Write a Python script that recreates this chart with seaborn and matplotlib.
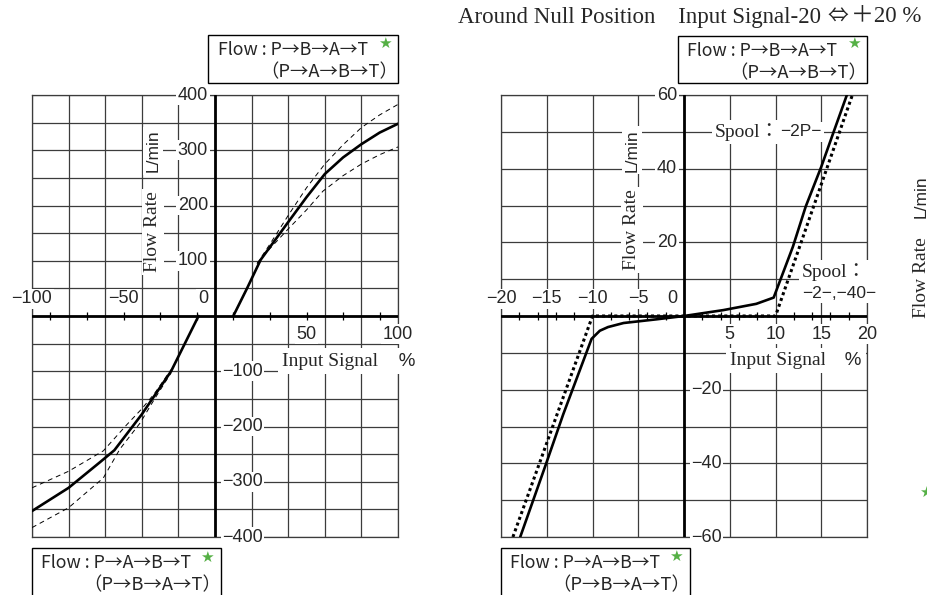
import matplotlib
matplotlib.use("Agg")
import matplotlib.pyplot as plt
from matplotlib.patches import Rectangle
import seaborn as sns

# ---- full stroke panel (-100 .. 100 %)
fullNegX = [-100, -80, -63, -55, -40, -24, -9]
fullNegY = [-353, -311, -265, -243, -178, -100, 0]
fullPosX = [10, 17.5, 25, 40, 50, 60, 70, 80, 90, 100]
fullPosY = [0, 50, 102, 170, 215, 257, 287, 311, 332, 348]

fullUpperPosX = [23, 30, 40, 50, 60, 70, 80, 90, 100]
fullUpperPosY = [95, 130, 182, 232, 275, 310, 341, 364, 383]
fullLowerPosX = [23, 30, 39, 50, 59, 70, 80, 90, 100]
fullLowerPosY = [95, 122, 154, 192, 226, 254, 275, 292, 306]

fullUpperNegX = [-100, -80, -61, -48, -40, -33, -24]
fullUpperNegY = [-311, -281, -244, -196, -168, -140, -97]
fullLowerNegX = [-100, -80, -61, -52, -41, -33, -24]
fullLowerNegY = [-383, -347, -293, -241, -194, -150, -103]

# ---- around null position panel (-20 .. 20 %)
nullSolidX = [-17.9, -15.1, -13.2, -10.1, -9.2, -8.3, -6.6, -3.0, 0.0, 4.3, 7.9, 9.8, 11.9, 13.3, 15.0, 16.3, 17.8]
nullSolidY = [-60, -40.3, -26.7, -6.2, -4.0, -3.0, -1.9, -0.9, 0.0, 1.6, 3.3, 5.0, 18.8, 29.7, 40.5, 49.6, 60]
nullDotX = [-18.7, -10, 10, 18.4]
nullDotY = [-60, 0, 0, 60]

# tick label values
fullXAbove = [-100, -50]
fullXBelow = [50, 100]
fullYLeft = [400, 300, 200, 100]
fullYRight = [-100, -200, -300, -400]
nullXAbove = [-20, -15, -10, -5]
nullXBelow = [5, 10, 15, 20]
nullYLeft = [60, 40, 20]
nullYRight = [-20, -40, -60]

legendTop = ["Flow : P→B→A→T", "（P→A→B→T）"]
legendBottom = ["Flow : P→A→B→T", "（P→B→A→T）"]

sns.set_style("white")
sansFam = ["Liberation Sans", "Noto Sans CJK JP", "DejaVu Sans"]
serifFam = ["Liberation Serif", "Noto Sans CJK JP", "DejaVu Serif"]
cjkFam = ["Noto Sans CJK JP", "DejaVu Sans"]
plt.rcParams["font.family"] = sansFam

gridColor = "#3c3c3c"
starGreen = "#55b045"
W, H = 927, 595

fig = plt.figure(figsize=(W / 100, H / 100), dpi=100)


def px(x, y):
    """pixel position -> figure fraction"""
    return x / W, 1 - y / H


def fmt(v):
    return str(v).replace("-", "\u2212")


def setupPanel(ax, xlim, ylim, xgrid, ygrid, xminor):
    ax.set_xlim(xlim)
    ax.set_ylim(ylim)
    ax.set_xticks(xgrid)
    ax.set_yticks(ygrid)
    ax.tick_params(length=0, labelbottom=False, labelleft=False)
    ax.grid(True, color=gridColor, lw=0.9)
    for s in ax.spines.values():
        s.set_color(gridColor)
        s.set_linewidth(0.9)
    ax.axhline(0, color="black", lw=2.0, zorder=4)
    ax.axvline(0, color="black", lw=2.0, zorder=4)
    ax.plot(xminor, [0] * len(xminor), ls="none", marker="|", ms=5.5, mew=0.9, color="black", zorder=4)


def tickLabel(ax, x, y, text, dx, dy, ha):
    ax.annotate(text, (x, y), xytext=(dx, dy), textcoords="offset points", ha=ha, va="center",
                fontsize=13, family=sansFam, zorder=3, annotation_clip=False,
                bbox=dict(fc="white", ec="none", pad=1))


def boxText(ax, x, y, text, fam, size, rot=0, ha="center", pad=2):
    ax.text(x, y, text, family=fam, fontsize=size, rotation=rot, ha=ha, va="center", zorder=3,
            clip_on=False, bbox=dict(fc="white", ec="none", pad=pad))


def legendBox(x0, y0, x1, y1, lines, tx1, tx2, star):
    l, b = px(x0, y1)
    r, t = px(x1, y0)
    fig.patches.append(Rectangle((l, b), r - l, t - b, transform=fig.transFigure, fill=False,
                                 ec="black", lw=1.0))
    fig.text(*px(tx1, y0 + 15), lines[0], family=cjkFam, fontsize=12.8, va="center")
    fig.text(*px(tx2, y0 + 37), lines[1], family=cjkFam, fontsize=13.2, va="center")
    fig.text(*px(*star), "★", family=["DejaVu Sans"], fontsize=11, color=starGreen, ha="center", va="center")


# ---------------- left panel
ax1 = fig.add_axes([32 / W, 1 - 537 / H, 366 / W, 442 / H])
setupPanel(ax1, (-100, 100), (-400, 400), range(-100, 101, 20), range(-400, 401, 50),
           [v for v in range(-90, 100, 20)])

sns.lineplot(x=fullNegX, y=fullNegY, ax=ax1, color="black", lw=1.9, sort=False, estimator=None, zorder=5)
sns.lineplot(x=fullPosX, y=fullPosY, ax=ax1, color="black", lw=1.9, sort=False, estimator=None, zorder=5)
for xs, ys in [(fullUpperPosX, fullUpperPosY), (fullLowerPosX, fullLowerPosY),
               (fullUpperNegX, fullUpperNegY), (fullLowerNegX, fullLowerNegY)]:
    sns.lineplot(x=xs, y=ys, ax=ax1, color="black", lw=0.7, linestyle=(0, (5, 4)), sort=False,
                 estimator=None, zorder=5)

for v in fullXAbove:
    tickLabel(ax1, v, 0, fmt(v), 0, 12.5, "center")
for v in fullXBelow:
    tickLabel(ax1, v, 0, fmt(v), 0, -13, "center")
for v in fullYLeft:
    tickLabel(ax1, 0, v, fmt(v), -5, 0, "right")
for v in fullYRight:
    tickLabel(ax1, 0, v, fmt(v), 5, 0, "left")
tickLabel(ax1, 0, 0, "0", -5, 12.5, "right")

boxText(ax1, -34, 152, "Flow Rate", serifFam, 14, rot=90)
boxText(ax1, -34, 299, "L/min", sansFam, 12.5, rot=90)
boxText(ax1, 36.6, -81.5, "Input Signal", serifFam, 14, ha="left", pad=3)
boxText(ax1, 91.8, -81.5, "   %", sansFam, 13.5, ha="left", pad=3)

# ---------------- middle panel
ax2 = fig.add_axes([501 / W, 1 - 537 / H, 366 / W, 442 / H])
setupPanel(ax2, (-20, 20), (-60, 60), range(-20, 21, 5), range(-60, 61, 10),
           [v for v in range(-18, 19, 2) if v % 10 != 0])

sns.lineplot(x=nullSolidX, y=nullSolidY, ax=ax2, color="black", lw=1.9, sort=False, estimator=None, zorder=5)
sns.lineplot(x=nullDotX, y=nullDotY, ax=ax2, color="black", lw=2.2, linestyle=(0, (1, 1)), sort=False,
             estimator=None, zorder=5)

for v in nullXAbove:
    tickLabel(ax2, v, 0, fmt(v), 0, 12.5, "center")
for v in nullXBelow:
    tickLabel(ax2, v, 0, fmt(v), 0, -13, "center")
for v in nullYLeft:
    tickLabel(ax2, 0, v, fmt(v), -5, 0, "right")
for v in nullYRight:
    tickLabel(ax2, 0, v, fmt(v), 5, 0, "left")
tickLabel(ax2, 0, 0, "0", -5, 12.5, "right")

boxText(ax2, -5.7, 23.4, "Flow Rate", serifFam, 14, rot=90)
boxText(ax2, -5.7, 45, "L/min", sansFam, 12.5, rot=90)
boxText(ax2, 5.0, -12, "Input Signal", serifFam, 14, ha="left", pad=3)
boxText(ax2, 15.9, -12, "   %", sansFam, 13.5, ha="left", pad=3)

boxText(ax2, 10.5, 50, "Spool：", serifFam, 14, ha="right")
boxText(ax2, 10.5, 50, "\u22122P\u2212", sansFam, 12.5, ha="left")
boxText(ax2, 12.9, 12, "Spool：", serifFam, 14, ha="left")
boxText(ax2, 12.9, 6.2, "\u22122\u2212,\u221240\u2212", sansFam, 12.5, ha="left")

# ---------------- legends, title, cut-off third panel
legendBox(208, 35, 398, 83, legendTop, 218, 260, (385, 43))
legendBox(32, 548, 221, 610, legendBottom, 41, 83, (207, 557))
legendBox(678, 36, 867, 83, legendTop, 687, 729, (854, 43))
legendBox(501, 548, 690, 610, legendBottom, 510, 552, (676, 556))

fig.text(*px(458, 17), "Around Null Position　Input Signal-20", family=serifFam, fontsize=16.5, va="center")
fig.text(*px(838, 17), "⇔", family=cjkFam, fontsize=15, ha="center", va="center")
fig.text(*px(851, 17), "＋20 %", family=serifFam, fontsize=16.5, va="center")

fig.text(*px(921, 278), "Flow Rate", family=serifFam, fontsize=14, rotation=90, ha="center", va="center")
fig.text(*px(921, 197), "L/min", family=sansFam, fontsize=12.5, rotation=90, ha="center", va="center")
fig.text(*px(926, 492), "★", family=["DejaVu Sans"], fontsize=11, color=starGreen, ha="center", va="center")

fig.savefig("out.png", dpi=100)
